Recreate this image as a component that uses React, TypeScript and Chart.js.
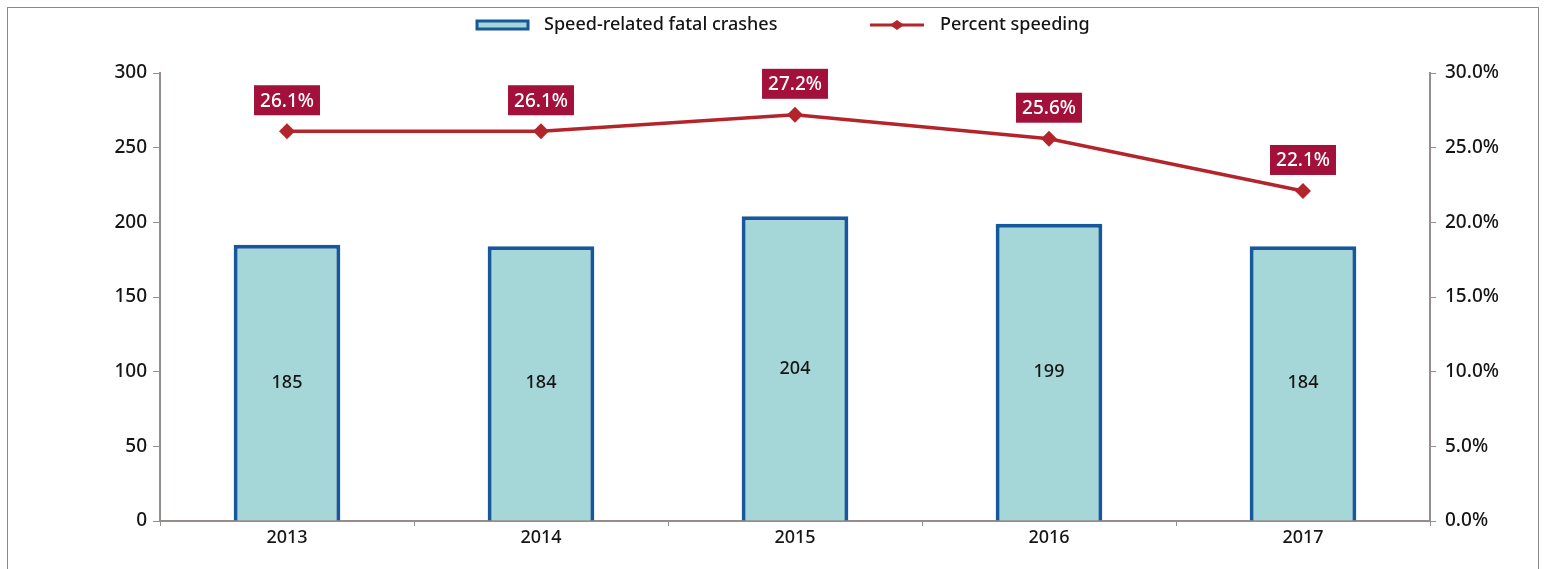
import React, { useEffect, useRef } from "react";
import { Chart, registerables } from "chart.js";

Chart.register(...registerables);

const years = ["2013", "2014", "2015", "2016", "2017"];
const fatalCrashes = [185, 184, 204, 199, 184];
const percentSpeeding = [26.1, 26.1, 27.2, 25.6, 22.1];
const leftTicks = [0, 50, 100, 150, 200, 250, 300];
const rightTicks = [0, 5, 10, 15, 20, 25, 30];

const FONT = "'Noto Sans', sans-serif";
const BAR_FILL = "#a6d7d8";
const BAR_BORDER = "#17589c";
const LINE_COLOR = "#b3252a";
const LABEL_BG = "#a3103a";
const AXIS_COLOR = "#968c8c";
const TEXT = "#151515";

const labelsPlugin = {
  id: "customLabels",
  afterDatasetsDraw(chart: any) {
    const ctx = chart.ctx;
    ctx.save();
    const barMeta = chart.getDatasetMeta(0);
    ctx.font = `500 18px ${FONT}`;
    ctx.fillStyle = TEXT;
    ctx.textAlign = "center";
    ctx.textBaseline = "middle";
    barMeta.data.forEach((bar: any, i: number) => {
      ctx.fillText(String(fatalCrashes[i]), bar.x, (bar.y + bar.base) / 2);
    });
    const lineMeta = chart.getDatasetMeta(1);
    ctx.font = `500 19px ${FONT}`;
    lineMeta.data.forEach((pt: any, i: number) => {
      const text = percentSpeeding[i].toFixed(1) + "%";
      const w = ctx.measureText(text).width + 12;
      const h = 30;
      const cy = pt.y - 31;
      ctx.fillStyle = LABEL_BG;
      ctx.fillRect(pt.x - w / 2, cy - h / 2, w, h);
      ctx.fillStyle = "#ffffff";
      ctx.fillText(text, pt.x, cy + 1);
    });
    ctx.restore();
  },
  afterDraw(chart: any) {
    const ctx = chart.ctx;
    ctx.save();
    const y = 17;
    ctx.fillStyle = BAR_FILL;
    ctx.fillRect(469, y - 4, 51, 8);
    ctx.strokeStyle = BAR_BORDER;
    ctx.lineWidth = 3;
    ctx.strokeRect(469, y - 4, 51, 8);
    ctx.font = `500 18px ${FONT}`;
    ctx.fillStyle = TEXT;
    ctx.textAlign = "left";
    ctx.textBaseline = "middle";
    ctx.fillText("Speed-related fatal crashes", 536, y);
    ctx.strokeStyle = LINE_COLOR;
    ctx.lineWidth = 3;
    ctx.beginPath();
    ctx.moveTo(862, y);
    ctx.lineTo(916, y);
    ctx.stroke();
    ctx.fillStyle = LINE_COLOR;
    ctx.beginPath();
    ctx.moveTo(889, y - 5);
    ctx.lineTo(896, y);
    ctx.lineTo(889, y + 5);
    ctx.lineTo(882, y);
    ctx.closePath();
    ctx.fill();
    ctx.fillStyle = TEXT;
    ctx.fillText("Percent speeding", 932, y);
    ctx.restore();
  },
};

export default function App() {
  const ref = useRef<HTMLCanvasElement>(null);
  useEffect(() => {
    if (!ref.current) return;
    const chart = new Chart(ref.current, {
      type: "bar",
      data: {
        labels: years,
        datasets: [
          {
            type: "bar",
            label: "Speed-related fatal crashes",
            data: fatalCrashes,
            backgroundColor: BAR_FILL,
            borderColor: BAR_BORDER,
            borderWidth: 4,
            barPercentage: 0.42,
            categoryPercentage: 1,
            yAxisID: "y",
            order: 2,
          },
          {
            type: "line",
            label: "Percent speeding",
            data: percentSpeeding,
            borderColor: LINE_COLOR,
            backgroundColor: LINE_COLOR,
            borderWidth: 3.5,
            pointStyle: "rectRot",
            pointRadius: 5.5,
            yAxisID: "y1",
            order: 1,
          } as any,
        ],
      },
      options: {
        responsive: false,
        animation: false,
        layout: { padding: { top: 65, left: 0, right: 0, bottom: 0 } },
        plugins: {
          legend: { display: false },
          tooltip: { enabled: false },
        },
        scales: {
          x: {
            grid: {
              display: true,
              drawOnChartArea: false,
              drawTicks: true,
              tickLength: 5,
              color: AXIS_COLOR,
              offset: true,
            },
            border: { display: true, color: AXIS_COLOR, width: 2 },
            ticks: {
              color: TEXT,
              font: { family: FONT, size: 18, weight: 500 as any },
              padding: 1,
            },
            afterFit(scale: any) {
              scale.height = 48;
            },
          },
          y: {
            position: "left",
            min: 0,
            max: 300,
            afterBuildTicks(scale: any) {
              scale.ticks = leftTicks.map((v) => ({ value: v }));
            },
            grid: {
              display: true,
              drawOnChartArea: false,
              drawTicks: true,
              tickLength: 7,
              color: AXIS_COLOR,
            },
            border: { display: true, color: AXIS_COLOR, width: 2 },
            ticks: {
              color: TEXT,
              font: { family: FONT, size: 19, weight: 500 as any },
              padding: 6,
            },
            afterFit(scale: any) {
              scale.width = 152;
            },
          },
          y1: {
            position: "right",
            min: 0,
            max: 30,
            afterBuildTicks(scale: any) {
              scale.ticks = rightTicks.map((v) => ({ value: v }));
            },
            grid: {
              display: true,
              drawOnChartArea: false,
              drawTicks: true,
              tickLength: 6,
              color: AXIS_COLOR,
            },
            border: { display: true, color: AXIS_COLOR, width: 2 },
            ticks: {
              color: TEXT,
              font: { family: FONT, size: 19, weight: 500 as any },
              padding: 9,
              callback: (v: any) => Number(v).toFixed(1) + "%",
            },
            afterFit(scale: any) {
              scale.width = 108;
            },
          },
        },
      },
      plugins: [labelsPlugin],
    });
    return () => chart.destroy();
  }, []);

  return (
    <div
      style={{
        position: "absolute",
        left: 7,
        top: 7,
        width: 1530,
        height: 562,
        borderTop: "1px solid #8a8a8a",
        borderLeft: "1px solid #8a8a8a",
        borderRight: "1px solid #8a8a8a",
        background: "#fff",
      }}
    >
      <canvas ref={ref} width={1530} height={561} style={{ display: "block" }} />
    </div>
  );
}
